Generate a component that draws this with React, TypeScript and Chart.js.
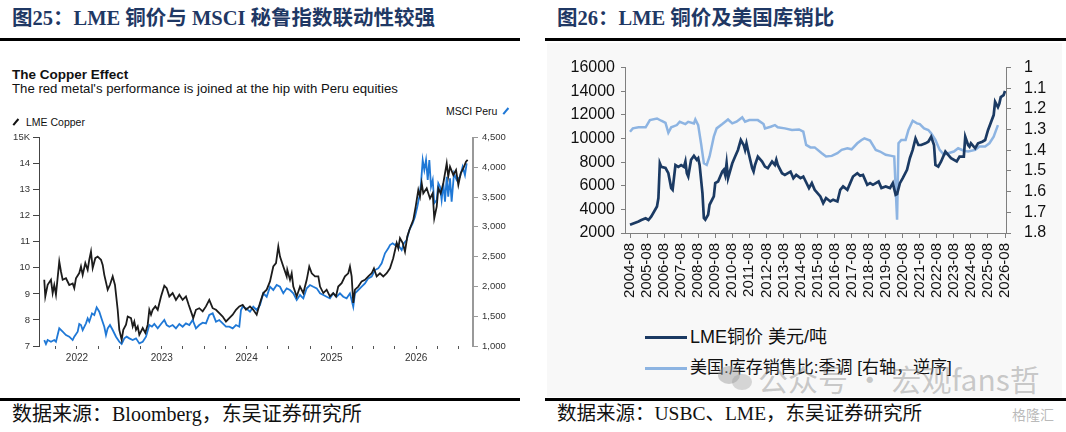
import React, { useEffect, useRef } from "react";
import { Chart, registerables } from "chart.js";

Chart.register(...registerables);

// ---------- Left chart: LME Copper (K USD) vs MSCI Peru ----------
const copperDates = [
  2021.614, 2021.626, 2021.654, 2021.693, 2021.713, 2021.732, 2021.752, 2021.791, 2021.811, 2021.831,
  2021.87, 2021.909, 2021.949, 2021.968, 2021.988, 2022.027, 2022.047, 2022.067, 2022.098, 2022.126,
  2022.145, 2022.165, 2022.185, 2022.216, 2022.244, 2022.283, 2022.303, 2022.322, 2022.362, 2022.389,
  2022.421, 2022.448, 2022.48, 2022.499, 2022.527, 2022.546, 2022.578, 2022.598, 2022.637, 2022.657,
  2022.676, 2022.696, 2022.716, 2022.735, 2022.775, 2022.806, 2022.834, 2022.853, 2022.873, 2022.893,
  2022.924, 2022.952, 2022.991, 2023.03, 2023.058, 2023.089, 2023.128, 2023.167, 2023.207, 2023.246,
  2023.285, 2023.317, 2023.344, 2023.371, 2023.403, 2023.442, 2023.482, 2023.521, 2023.56, 2023.6,
  2023.639, 2023.678, 2023.718, 2023.757, 2023.796, 2023.836, 2023.875, 2023.914, 2023.954, 2023.993,
  2024.04, 2024.079, 2024.119, 2024.158, 2024.197, 2024.237, 2024.276, 2024.315, 2024.347, 2024.374,
  2024.394, 2024.433, 2024.473, 2024.48, 2024.512, 2024.532, 2024.551, 2024.591, 2024.63, 2024.669,
  2024.709, 2024.739, 2024.768, 2024.807, 2024.846, 2024.866, 2024.905, 2024.944, 2024.983, 2025.022,
  2025.054, 2025.081, 2025.121, 2025.16, 2025.199, 2025.219, 2025.239, 2025.258, 2025.278, 2025.317,
  2025.357, 2025.396, 2025.435, 2025.475, 2025.502, 2025.534, 2025.573, 2025.612, 2025.652, 2025.691,
  2025.729, 2025.77, 2025.789, 2025.809, 2025.841, 2025.868, 2025.895, 2025.927, 2025.966, 2025.994,
  2026.025, 2026.045, 2026.065, 2026.084, 2026.124, 2026.163, 2026.195, 2026.213, 2026.242, 2026.261,
  2026.289, 2026.32, 2026.36, 2026.378, 2026.399, 2026.438, 2026.47, 2026.497, 2026.525, 2026.556,
  2026.587, 2026.607,
];
const copperValues = [
  9.54, 8.9, 9.35, 9.54, 9.03, 9.34, 8.97, 10.24, 9.86, 9.54,
  9.6, 9.34, 9.4, 9.22, 9.6, 9.8, 10.05, 9.73, 10.18, 9.92,
  10.31, 10.62, 9.99, 10.37, 10.43, 10.31, 10.11, 9.73, 9.16, 9.35,
  9.67, 9.34, 8.39, 7.62, 7.24, 7.62, 7.82, 8.13, 8.07, 7.75,
  7.94, 7.62, 7.75, 7.43, 7.69, 7.5, 7.82, 8.39, 8.2, 8.39,
  8.52, 8.39, 8.9, 9.31, 9.22, 8.9, 9.03, 8.77, 8.97, 8.77,
  8.9, 8.58, 8.33, 8.07, 8.39, 8.45, 8.33, 8.52, 8.77, 8.45,
  8.39, 8.26, 8.13, 7.94, 8.07, 8.2, 8.39, 8.52, 8.58, 8.39,
  8.52, 8.39, 8.2, 8.65, 9.03, 9.16, 9.48, 10.05, 10.18, 10.82,
  10.43, 10.05, 9.67, 9.92, 9.54, 9.79, 9.28, 8.9, 9.28, 9.03,
  9.54, 10.05, 9.79, 9.67, 9.67, 9.28, 9.03, 9.16, 8.9, 9.03,
  8.9, 9.28, 9.41, 9.67, 9.79, 10.05, 9.67, 8.65, 9.16, 9.28,
  9.48, 9.54, 9.67, 9.79, 9.98, 9.67, 9.79, 9.67, 9.79, 9.98,
  10.37, 10.95, 10.75, 11.14, 10.95, 10.62, 11.2, 11.52, 11.84, 12.35,
  12.99, 12.73, 13.25, 12.86, 13.05, 12.66, 12.86, 11.9, 12.35, 13.05,
  12.86, 13.25, 14.01, 13.5, 13.88, 13.56, 13.75, 13.18, 13.63, 13.82,
  14.07, 14.14,
];
const peruDates = [
  2021.614, 2021.634, 2021.654, 2021.693, 2021.732, 2021.752, 2021.791, 2021.831, 2021.87, 2021.909,
  2021.949, 2021.968, 2022.008, 2022.027, 2022.047, 2022.067, 2022.106, 2022.126, 2022.145, 2022.177,
  2022.204, 2022.232, 2022.263, 2022.295, 2022.322, 2022.342, 2022.362, 2022.389, 2022.421, 2022.46,
  2022.499, 2022.527, 2022.558, 2022.586, 2022.617, 2022.657, 2022.696, 2022.735, 2022.775, 2022.814,
  2022.853, 2022.884, 2022.912, 2022.952, 2022.991, 2023.03, 2023.058, 2023.089, 2023.128, 2023.167,
  2023.207, 2023.246, 2023.285, 2023.325, 2023.364, 2023.403, 2023.442, 2023.482, 2023.521, 2023.56,
  2023.6, 2023.639, 2023.678, 2023.718, 2023.757, 2023.796, 2023.836, 2023.875, 2023.914, 2023.934,
  2023.954, 2023.993, 2024.04, 2024.079, 2024.119, 2024.158, 2024.197, 2024.237, 2024.276, 2024.315,
  2024.355, 2024.394, 2024.433, 2024.473, 2024.512, 2024.551, 2024.591, 2024.63, 2024.669, 2024.709,
  2024.748, 2024.787, 2024.827, 2024.866, 2024.905, 2024.944, 2024.983, 2025.022, 2025.062, 2025.101,
  2025.14, 2025.18, 2025.219, 2025.258, 2025.278, 2025.317, 2025.357, 2025.396, 2025.435, 2025.475,
  2025.514, 2025.553, 2025.593, 2025.632, 2025.671, 2025.691, 2025.722, 2025.75, 2025.77, 2025.801,
  2025.829, 2025.856, 2025.888, 2025.919, 2025.958, 2025.986, 2026.013, 2026.037, 2026.057, 2026.077,
  2026.096, 2026.116, 2026.136, 2026.155, 2026.175, 2026.195, 2026.213, 2026.242, 2026.261, 2026.281,
  2026.3, 2026.32, 2026.34, 2026.36, 2026.378, 2026.399, 2026.418, 2026.446, 2026.478, 2026.517,
  2026.548, 2026.575, 2026.595,
];
const peruValues = [
  1100, 1033, 1100, 1072, 1100, 1072, 1296, 1240, 1184, 1156,
  1100, 1156, 1240, 1369, 1352, 1268, 1380, 1464, 1408, 1548,
  1520, 1649, 1576, 1436, 1324, 1184, 1296, 1352, 1268, 1156,
  1072, 1033, 1128, 1156, 1128, 1100, 1128, 1044, 1072, 1156,
  1352, 1324, 1369, 1296, 1369, 1436, 1352, 1324, 1352, 1296,
  1369, 1324, 1380, 1352, 1436, 1296, 1352, 1391, 1380, 1520,
  1548, 1408, 1436, 1380, 1324, 1324, 1296, 1352, 1324, 1604,
  1659, 1632, 1575, 1659, 1604, 1688, 1884, 1827, 1995, 1940,
  2024, 1995, 1884, 1968, 1940, 1884, 1772, 1856, 1800, 1968,
  2024, 1995, 1968, 1884, 1856, 1827, 1800, 1884, 1827, 1884,
  1827, 1800, 1884, 1659, 1884, 1940, 1995, 2052, 2136, 2164,
  2275, 2303, 2388, 2556, 2640, 2695, 2724, 2695, 2724, 2667,
  2611, 2724, 2779, 2947, 3059, 3170, 3338, 3506, 3731, 4122,
  3954, 4122, 3786, 4122, 3674, 3786, 3395, 3451, 3731, 3674,
  3451, 3731, 3423, 3842, 3506, 3814, 3423, 3898, 3786, 3842,
  4010, 3870, 4067,
];
const leftYears = [2022, 2023, 2024, 2025, 2026];

// ---------- Right chart: LME copper price vs US inventory/sales ratio ----------
const lmeDates = [
  "2004-08", "2005-02", "2005-04", "2005-07", "2005-09", "2005-11", "2006-03", "2006-04", "2006-05", "2006-06",
  "2006-09", "2006-11", "2007-01", "2007-02", "2007-04", "2007-06", "2007-08", "2007-10", "2007-11", "2007-12",
  "2008-01", "2008-03", "2008-05", "2008-07", "2008-08", "2008-09", "2008-11", "2008-12", "2009-01", "2009-03",
  "2009-04", "2009-07", "2009-08", "2009-10", "2010-01", "2010-02", "2010-03", "2010-04", "2010-05", "2010-08",
  "2010-10", "2010-12", "2011-02", "2011-04", "2011-05", "2011-06", "2011-07", "2011-10", "2011-11", "2011-12",
  "2012-02", "2012-05", "2012-07", "2012-09", "2012-12", "2013-02", "2013-03", "2013-04", "2013-07", "2013-09",
  "2014-01", "2014-03", "2014-05", "2014-08", "2014-10", "2015-02", "2015-04", "2015-06", "2015-10", "2015-12",
  "2016-02", "2016-05", "2016-07", "2016-10", "2016-12", "2017-02", "2017-05", "2017-07", "2017-09", "2017-12",
  "2018-02", "2018-04", "2018-07", "2018-09", "2018-11", "2019-03", "2019-05", "2019-08", "2019-11", "2020-01",
  "2020-03", "2020-04", "2020-06", "2020-08", "2020-11", "2021-01", "2021-03", "2021-05", "2021-07", "2021-09",
  "2021-12", "2022-02", "2022-04", "2022-06", "2022-07", "2022-09", "2022-11", "2023-02", "2023-04", "2023-06",
  "2023-10", "2023-12", "2024-03", "2024-04", "2024-06", "2024-07", "2024-08", "2024-11", "2025-01", "2025-04",
  "2025-06", "2025-08", "2025-12", "2026-01", "2026-03", "2026-04", "2026-05", "2026-07", "2026-08",
];
const lmeValues = [
  2700, 2980, 3100, 3250, 3100, 3400, 4250, 4960, 7900, 7600,
  7500, 7060, 5800, 5660, 7750, 7600, 7750, 7600, 8050, 7060,
  6780, 8200, 8530, 8190, 8330, 7760, 5380, 3270, 3130, 3550,
  4390, 5100, 6220, 6360, 7200, 7350, 6920, 7900, 6640, 7900,
  8470, 9030, 9870, 9450, 9030, 9590, 9030, 7490, 7200, 7760,
  8470, 8050, 7620, 7490, 8050, 7760, 8190, 7760, 7060, 6920,
  7200, 6640, 6920, 6640, 6780, 5800, 6220, 5660, 5100, 4530,
  4960, 4670, 4820, 4670, 5660, 5940, 5660, 6220, 6780, 7060,
  6840, 6920, 6080, 6220, 6080, 6360, 5800, 5940, 5800, 6220,
  5240, 5300, 6220, 6640, 7350, 8330, 9030, 10010, 9450, 9450,
  9590, 9730, 10150, 9450, 7760, 7620, 8050, 8890, 8610, 8330,
  8050, 8470, 8470, 10150, 9450, 9310, 9590, 9170, 9590, 9730,
  9870, 10700, 11980, 13100, 12650, 12950, 13500, 13670, 14030,
];
const ratioDates = [
  "2004-08", "2004-10", "2005-02", "2005-07", "2005-10", "2006-03", "2006-06", "2006-09", "2006-11", "2007-01",
  "2007-05", "2007-07", "2007-11", "2008-01", "2008-05", "2008-06", "2008-08", "2008-10", "2008-12", "2009-02",
  "2009-04", "2009-07", "2009-09", "2010-01", "2010-03", "2010-05", "2010-08", "2010-11", "2011-03", "2011-05",
  "2011-08", "2012-02", "2012-06", "2012-07", "2012-11", "2013-02", "2013-04", "2013-09", "2014-02", "2014-07",
  "2014-10", "2014-12", "2015-03", "2015-06", "2015-11", "2016-02", "2016-06", "2016-10", "2017-01", "2017-05",
  "2017-08", "2017-12", "2018-03", "2018-05", "2018-09", "2019-01", "2019-04", "2019-08", "2019-12", "2020-02",
  "2020-04", "2020-05", "2020-07", "2020-10", "2020-12", "2021-03", "2021-06", "2021-08", "2021-11", "2022-02",
  "2022-04", "2022-07", "2022-10", "2023-01", "2023-04", "2023-08", "2023-11", "2024-03", "2024-06", "2024-11",
  "2025-02", "2025-06", "2025-09", "2025-12", "2026-03",
];
const ratioValues = [
  1.31, 1.294, 1.289, 1.289, 1.254, 1.246, 1.257, 1.267, 1.315, 1.289,
  1.278, 1.262, 1.273, 1.262, 1.27, 1.251, 1.278, 1.366, 1.463, 1.471,
  1.43, 1.334, 1.294, 1.273, 1.262, 1.251, 1.27, 1.262, 1.241, 1.262,
  1.254, 1.254, 1.273, 1.294, 1.286, 1.278, 1.289, 1.294, 1.302, 1.299,
  1.31, 1.374, 1.386, 1.386, 1.414, 1.43, 1.427, 1.414, 1.398, 1.39,
  1.395, 1.366, 1.35, 1.342, 1.353, 1.398, 1.406, 1.422, 1.427, 1.43,
  1.736, 1.366, 1.35, 1.35, 1.302, 1.257, 1.27, 1.273, 1.294, 1.302,
  1.318, 1.35, 1.398, 1.422, 1.414, 1.406, 1.39, 1.402, 1.406, 1.398,
  1.382, 1.382, 1.366, 1.334, 1.278,
];
const rightXLabels = [
  "2004-08", "2005-08", "2006-08", "2007-08", "2008-08", "2009-08", "2010-08", "2011-08", "2012-08", "2013-08",
  "2014-08", "2015-08", "2016-08", "2017-08", "2018-08", "2019-08", "2020-08", "2021-08", "2022-08", "2023-08",
  "2024-08", "2025-08", "2026-08",
];

const SANS = '"Liberation Sans", Arial, sans-serif';
const CJK = '"Liberation Sans", "Noto Sans CJK SC", sans-serif';
const SERIF = '"Liberation Serif", "Noto Sans CJK SC", serif';

const toYear = (s: string) => {
  const [y, m] = s.split("-").map(Number);
  return y + (m - 1) / 12;
};

function LeftChart() {
  const ref = useRef<HTMLCanvasElement>(null);
  useEffect(() => {
    const quarterTicks: number[] = [];
    for (let q = 2021.75; q <= 2026.51; q += 0.25) quarterTicks.push(Math.round(q * 100) / 100);
    const chart = new Chart(ref.current!, {
      type: "line",
      data: {
        datasets: [
          {
            label: "LME Copper",
            data: copperDates.map((d, i) => ({ x: d, y: copperValues[i] })),
            borderColor: "#1c1c1c",
            borderWidth: 1.8,
            pointRadius: 0,
            yAxisID: "y",
            order: 0,
          },
          {
            label: "MSCI Peru",
            data: peruDates.map((d, i) => ({ x: d, y: peruValues[i] })),
            borderColor: "#1f78d6",
            borderWidth: 1.8,
            pointRadius: 0,
            yAxisID: "y1",
            order: 1,
          },
        ],
      },
      options: {
        animation: false,
        responsive: false,
        layout: { padding: { top: 12.5, left: 0, right: 0, bottom: 0 } },
        plugins: { legend: { display: false }, tooltip: { enabled: false } },
        scales: {
          x: {
            type: "linear",
            min: 2021.552,
            max: 2026.67,
            afterBuildTicks: (s: any) => {
              s.ticks = quarterTicks.map((v) => ({ value: v }));
            },
            ticks: {
              autoSkip: false,
              maxRotation: 0,
              padding: 3,
              color: "#333",
              font: { family: SANS, size: 10 },
              callback: (v: any) => (leftYears.includes(Number(v)) ? String(v) : ""),
            },
            grid: { drawOnChartArea: false, tickLength: 3, color: "#555" },
            border: { display: false },
            afterFit: (s: any) => {
              s.height = 24;
            },
          },
          y: {
            position: "left",
            min: 7,
            max: 15,
            ticks: {
              stepSize: 1,
              autoSkip: false,
              padding: 3,
              color: "#333",
              font: { family: SANS, size: 9.5 },
              callback: (v: any) => (v === 15 ? "15K" : String(v)),
            },
            grid: { drawOnChartArea: false, tickLength: 6, color: "#444" },
            border: { color: "#444", width: 1 },
            afterFit: (s: any) => {
              s.width = 39;
            },
          },
          y1: {
            position: "right",
            min: 1000,
            max: 4500,
            ticks: {
              stepSize: 500,
              autoSkip: false,
              padding: 4,
              color: "#333",
              font: { family: SANS, size: 9.5 },
              callback: (v: any) => Number(v).toLocaleString("en-US"),
            },
            grid: { drawOnChartArea: false, tickLength: 5, color: "#999" },
            border: { color: "#999", width: 2 },
            afterFit: (s: any) => {
              s.width = 47;
            },
          },
        },
      },
    } as any);
    return () => chart.destroy();
  }, []);
  return (
    <canvas
      ref={ref}
      width={520}
      height={245}
      style={{ position: "absolute", left: 0, top: 125, width: 520, height: 245 }}
    />
  );
}

function RightChart() {
  const ref = useRef<HTMLCanvasElement>(null);
  useEffect(() => {
    const chart = new Chart(ref.current!, {
      type: "line",
      data: {
        datasets: [
          {
            label: "LME铜价 美元/吨",
            data: lmeDates.map((d, i) => ({ x: toYear(d), y: lmeValues[i] })),
            borderColor: "#1b3a63",
            borderWidth: 2.7,
            pointRadius: 0,
            yAxisID: "y",
            order: 0,
          },
          {
            label: "美国:库存销售比:季调 [右轴，逆序]",
            data: ratioDates.map((d, i) => ({ x: toYear(d), y: ratioValues[i] })),
            borderColor: "#8db4e2",
            borderWidth: 2.5,
            pointRadius: 0,
            yAxisID: "y1",
            order: 1,
          },
        ],
      },
      options: {
        animation: false,
        responsive: false,
        layout: { padding: { top: 22, left: 0, right: 0, bottom: 0 } },
        plugins: { legend: { display: false }, tooltip: { enabled: false } },
        scales: {
          x: {
            type: "linear",
            min: 2004.29,
            max: 2026.64,
            afterBuildTicks: (s: any) => {
              s.ticks = rightXLabels.map((l) => ({ value: toYear(l) }));
            },
            ticks: {
              autoSkip: false,
              minRotation: 90,
              maxRotation: 90,
              padding: 5,
              color: "#111",
              font: { family: SANS, size: 15 },
              callback: (_v: any, i: number) => rightXLabels[i],
            },
            grid: { drawOnChartArea: false, tickLength: 5, color: "#7f7f7f" },
            border: { color: "#7f7f7f", width: 1 },
            afterFit: (s: any) => {
              s.height = 82;
            },
          },
          y: {
            position: "left",
            min: 2000,
            max: 16000,
            ticks: {
              stepSize: 2000,
              autoSkip: false,
              padding: 6,
              color: "#111",
              font: { family: SANS, size: 16 },
              callback: (v: any) => String(v),
            },
            grid: { drawOnChartArea: false, tickLength: 4, color: "#7f7f7f" },
            border: { color: "#7f7f7f", width: 1 },
            afterFit: (s: any) => {
              s.width = 80;
            },
          },
          y1: {
            position: "right",
            min: 1,
            max: 1.8,
            reverse: true,
            ticks: {
              stepSize: 0.1,
              autoSkip: false,
              padding: 13,
              color: "#111",
              font: { family: SANS, size: 16 },
              callback: (v: any) => String(Number(Number(v).toFixed(1))),
            },
            grid: { drawOnChartArea: false, tickLength: 5, color: "#7f7f7f" },
            border: { color: "#7f7f7f", width: 1 },
            afterFit: (s: any) => {
              s.width = 60;
            },
          },
        },
      },
    } as any);
    return () => chart.destroy();
  }, []);
  return (
    <canvas
      ref={ref}
      width={521}
      height={270}
      style={{ position: "absolute", left: 545, top: 45, width: 521, height: 270 }}
    />
  );
}

const abs = (o: React.CSSProperties): React.CSSProperties => ({ position: "absolute", whiteSpace: "nowrap", ...o });

export default function App() {
  return (
    <div
      style={{
        position: "absolute",
        left: 0,
        top: 0,
        width: 1066,
        height: 432,
        background: "#fff",
        overflow: "hidden",
      }}
    >
      {/* right panel faint background */}
      <div style={abs({ left: 547, top: 43, width: 515, height: 354, background: "#f8f8f8" })} />

      {/* headings */}
      <div style={abs({ left: 12, top: 6, fontFamily: SERIF, fontWeight: 700, fontSize: 20.5, lineHeight: "24px", color: "#1f3864" })}>
        图25：LME 铜价与 MSCI 秘鲁指数联动性较强
      </div>
      <div style={abs({ left: 557, top: 6, fontFamily: SERIF, fontWeight: 700, fontSize: 20.5, lineHeight: "24px", color: "#1f3864" })}>
        图26：LME 铜价及美国库销比
      </div>
      <div style={abs({ left: 0, top: 38, width: 520, height: 3, background: "#000" })} />
      <div style={abs({ left: 545, top: 38, width: 521, height: 3, background: "#000" })} />

      {/* left panel titles */}
      <div style={abs({ left: 12, top: 67, fontFamily: SANS, fontWeight: 700, fontSize: 13.5, lineHeight: "16px", color: "#111" })}>
        The Copper Effect
      </div>
      <div style={abs({ left: 12, top: 81, fontFamily: SANS, fontSize: 13.2, lineHeight: "16px", color: "#111" })}>
        The red metal's performance is joined at the hip with Peru equities
      </div>
      {/* left legend */}
      <div style={abs({ left: 12, top: 121, width: 8, height: 2.4, background: "#111", transform: "rotate(-50deg)" })} />
      <div style={abs({ left: 26, top: 115, fontFamily: SANS, fontSize: 10.5, lineHeight: "14px", color: "#111" })}>
        LME Copper
      </div>
      <div style={abs({ left: 446, top: 104, fontFamily: SANS, fontSize: 10.5, lineHeight: "14px", color: "#111" })}>
        MSCI Peru
      </div>
      <div style={abs({ left: 502, top: 110, width: 8, height: 2.4, background: "#1f78d6", transform: "rotate(-50deg)" })} />

      <LeftChart />
      <RightChart />

      {/* right legend */}
      <div style={abs({ left: 645, top: 336, width: 42, height: 2.5, background: "#1b3a63" })} />
      <div style={abs({ left: 690, top: 325, fontFamily: CJK, fontSize: 18, lineHeight: "24px", color: "#111" })}>
        LME铜价 美元/吨
      </div>
      <div style={abs({ left: 645, top: 367, width: 42, height: 2.5, background: "#8db4e2" })} />
      <div style={abs({ left: 690, top: 356, fontFamily: CJK, fontSize: 17, lineHeight: "24px", color: "#111" })}>
        美国:库存销售比:季调 [右轴，逆序]
      </div>

      {/* watermark */}
      <div style={abs({ left: 718, top: 366, width: 22, height: 18, borderRadius: "50%", background: "rgba(150,150,150,0.45)" })} />
      <div style={abs({ left: 732, top: 374, width: 20, height: 16, borderRadius: "50%", background: "rgba(150,150,150,0.35)" })} />
      <div style={abs({ left: 758, top: 358, fontFamily: '"Noto Sans CJK SC", sans-serif', fontSize: 30, lineHeight: "40px", color: "rgba(140,140,140,0.45)" })}>
        公众号 · 宏观fans哲
      </div>

      {/* footers */}
      <div style={abs({ left: 0, top: 398, width: 520, height: 3, background: "#000" })} />
      <div style={abs({ left: 545, top: 398, width: 521, height: 3, background: "#000" })} />
      <div style={abs({ left: 12, top: 402, fontFamily: SERIF, fontSize: 20, lineHeight: "24px", color: "#111" })}>
        数据来源：Bloomberg，东吴证券研究所
      </div>
      <div style={abs({ left: 557, top: 402, fontFamily: SERIF, fontSize: 19.5, lineHeight: "24px", color: "#111" })}>
        数据来源：USBC、LME，东吴证券研究所
      </div>
      <div style={abs({ left: 1012, top: 405, fontFamily: '"Noto Sans CJK SC", sans-serif', fontSize: 14, lineHeight: "18px", color: "rgba(140,140,140,0.6)" })}>
        格隆汇
      </div>
    </div>
  );
}
